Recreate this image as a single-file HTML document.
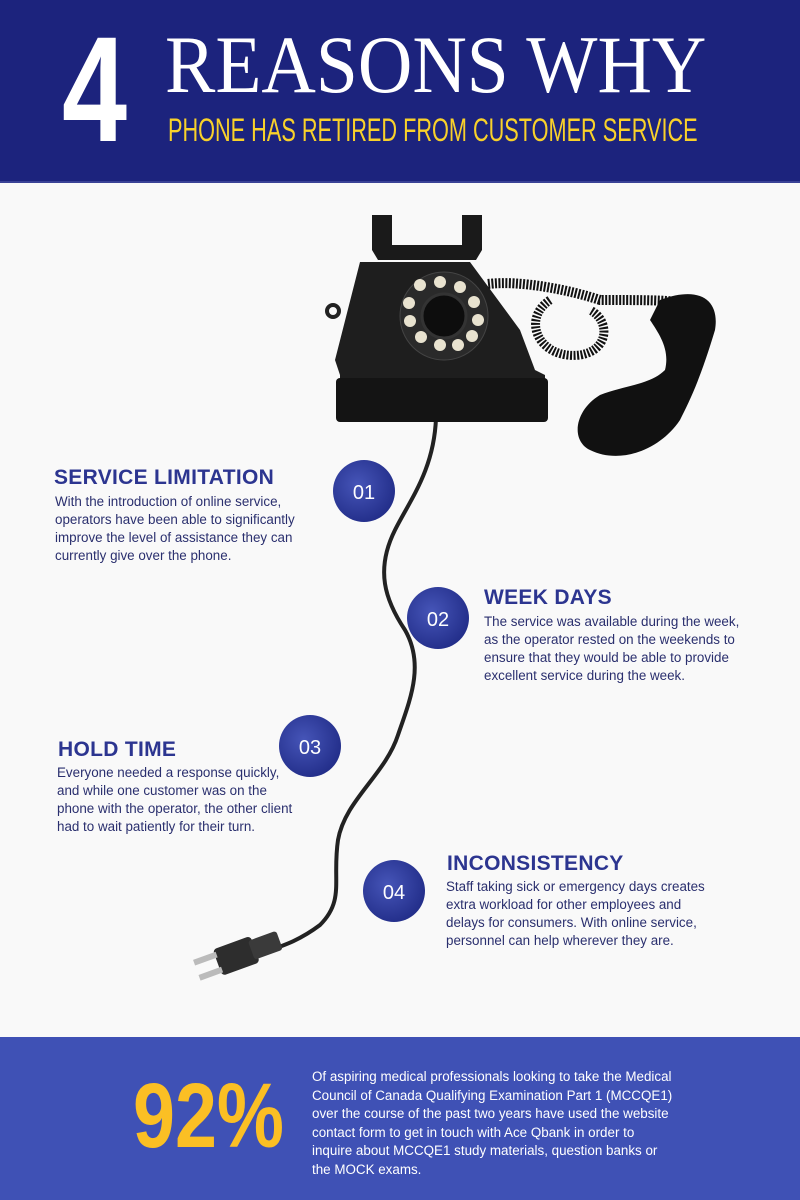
<!DOCTYPE html>
<html><head><meta charset="utf-8"><style>
*{margin:0;padding:0;box-sizing:border-box}
body{width:800px;height:1200px;background:#f9f9f9;position:relative;overflow:hidden;font-family:"Liberation Sans",sans-serif}
.hdr{position:absolute;left:0;top:0;width:800px;height:183px;background:#1c237d;border-bottom:2px solid #3a4296}
.four{position:absolute;left:62px;top:14px;font-family:"Liberation Sans",sans-serif;font-weight:bold;color:#fff;font-size:150px;line-height:150px;transform:scaleX(0.78);transform-origin:left}
.rw{position:absolute;left:165px;top:24px;color:#fff;font-family:"Liberation Serif",serif;font-size:82px;line-height:82px;transform:scaleX(0.92);transform-origin:left;white-space:nowrap}
.sub{position:absolute;left:168px;top:113px;color:#f9d12a;font-family:"Liberation Sans",sans-serif;font-size:32px;line-height:34px;transform:scaleX(0.678);transform-origin:left;white-space:nowrap}
h3{position:absolute;color:#2c3590;font-size:21px;font-weight:bold;letter-spacing:0.3px;white-space:nowrap}
p.t{position:absolute;color:#2a2f6e;font-size:13.4px;line-height:18px;white-space:nowrap}
.ftr{position:absolute;left:0;top:1037px;width:800px;height:163px;background:#3f51b5}
.pct{position:absolute;left:133px;top:1066px;color:#fbbf24;font-weight:bold;font-size:92px;line-height:100px;transform:scaleX(0.82);transform-origin:left}
.ft{position:absolute;left:312px;top:1068px;color:#fff;font-size:13.4px;line-height:18.5px;white-space:nowrap}
svg{position:absolute;left:0;top:0}
</style></head><body>
<div class="hdr"></div>
<div class="four">4</div>
<div class="rw">REASONS WHY</div>
<div class="sub">PHONE HAS RETIRED FROM CUSTOMER SERVICE</div>
<svg width="800" height="1200">
<defs>
<radialGradient id="g" cx="0.4" cy="0.4" r="0.7"><stop offset="0" stop-color="#4655b8"/><stop offset="1" stop-color="#1f2a85"/></radialGradient>
</defs>
<path d="M436 418 C434 470 410 500 395 530 C375 570 385 600 405 630 C425 665 410 700 398 735 C385 775 345 800 338 840 C332 880 345 900 320 925 C300 940 285 945 265 952" fill="none" stroke="#222" stroke-width="4"/>
<g transform="translate(225,960) rotate(-20)">
<rect x="-8" y="-14" width="40" height="28" rx="4" fill="#2d2d2d"/>
<rect x="28" y="-10" width="30" height="20" rx="3" fill="#3a3a3a"/>
<rect x="-30" y="-11" width="24" height="6" fill="#bbb"/>
<rect x="-30" y="5" width="24" height="6" fill="#bbb"/>
</g>
<path d="M372 215 h20 v30 h70 v-30 h20 v35 l-6 10 h-98 l-6 -10z" fill="#1a1a1a"/>
<path d="M360 262 L470 262 L520 330 L535 370 L545 375 L545 420 L340 420 L340 375 L335 360 Z" fill="#1e1e1e"/>
<rect x="336" y="378" width="212" height="44" rx="4" fill="#141414"/>
<circle cx="444" cy="316" r="44" fill="#2a2a2a" stroke="#444"/>
<circle cx="444" cy="316" r="22" fill="#0d0d0d" stroke="#333" stroke-width="3"/>
<g fill="#e8e2cf">
<circle cx="420" cy="285" r="6"/><circle cx="440" cy="282" r="6"/><circle cx="460" cy="287" r="6"/><circle cx="474" cy="302" r="6"/><circle cx="478" cy="320" r="6"/><circle cx="472" cy="336" r="6"/><circle cx="458" cy="345" r="6"/><circle cx="440" cy="345" r="6"/><circle cx="421" cy="337" r="6"/><circle cx="410" cy="321" r="6"/><circle cx="409" cy="303" r="6"/>
</g>
<circle cx="333" cy="311" r="6" fill="none" stroke="#222" stroke-width="4"/>
<path d="M488 284 C520 280 570 290 600 300 C650 300 680 300 690 305" fill="none" stroke="#111" stroke-width="10" stroke-dasharray="2 1.5"/>
<path d="M550 300 C520 320 540 360 580 355 C610 350 610 320 590 310" fill="none" stroke="#111" stroke-width="9" stroke-dasharray="2 1.5"/>
<path d="M660 300 C700 285 720 300 715 330 C700 380 690 400 680 420 C660 450 620 465 590 450 C570 440 575 410 600 395 C625 385 650 385 665 370 C670 350 660 335 650 320 Z" fill="#111"/>
<g font-family="Liberation Sans,sans-serif" font-size="20" fill="#fff" text-anchor="middle">
<circle cx="364" cy="491" r="31" fill="url(#g)"/><text x="364" y="499">01</text>
<circle cx="438" cy="618" r="31" fill="url(#g)"/><text x="438" y="626">02</text>
<circle cx="310" cy="746" r="31" fill="url(#g)"/><text x="310" y="754">03</text>
<circle cx="394" cy="891" r="31" fill="url(#g)"/><text x="394" y="899">04</text>
</g>
</svg>
<h3 style="left:54px;top:466px">SERVICE LIMITATION</h3>
<p class="t" style="left:55px;top:493px">With the introduction of online service,<br>operators have been able to significantly<br>improve the level of assistance they can<br>currently give over the phone.</p>
<h3 style="left:484px;top:586px">WEEK DAYS</h3>
<p class="t" style="left:484px;top:613px">The service was available during the week,<br>as the operator rested on the weekends to<br>ensure that they would be able to provide<br>excellent service during the week.</p>
<h3 style="left:58px;top:738px">HOLD TIME</h3>
<p class="t" style="left:57px;top:764px">Everyone needed a response quickly,<br>and while one customer was on the<br>phone with the operator, the other client<br>had to wait patiently for their turn.</p>
<h3 style="left:447px;top:852px">INCONSISTENCY</h3>
<p class="t" style="left:446px;top:878px">Staff taking sick or emergency days creates<br>extra workload for other employees and<br>delays for consumers. With online service,<br>personnel can help wherever they are.</p>
<div class="ftr"></div>
<div class="pct">92%</div>
<div class="ft">Of aspiring medical professionals looking to take the Medical<br>Council of Canada Qualifying Examination Part 1 (MCCQE1)<br>over the course of the past two years have used the website<br>contact form to get in touch with Ace Qbank in order to<br>inquire about MCCQE1 study materials, question banks or<br>the MOCK exams.</div>
</body></html>
